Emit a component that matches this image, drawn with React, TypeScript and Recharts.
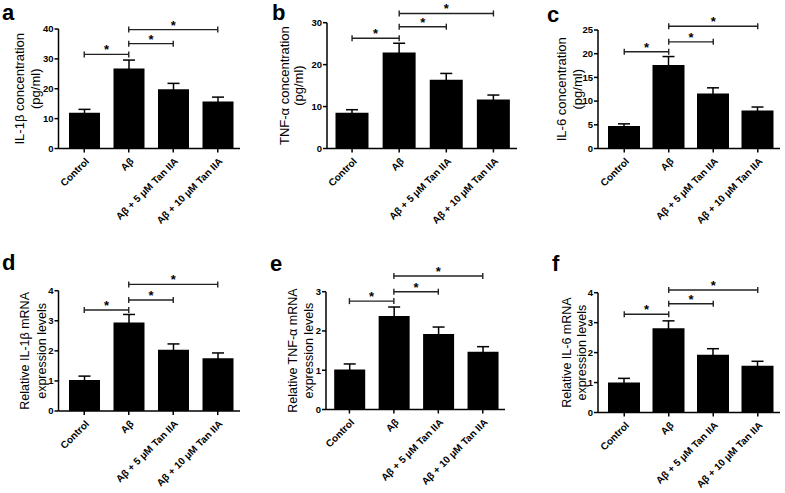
import React from 'react';
import { BarChart, Bar, XAxis, YAxis, ErrorBar, ReferenceLine } from 'recharts';

const FONT = '"Liberation Sans", Arial, Helvetica, sans-serif';

const categories = ['Control', 'Aβ', 'Aβ + 5 μM Tan IIA', 'Aβ + 10 μM Tan IIA'];

// significance comparisons (indices into categories)
const sigFrom = [0, 1, 1];
const sigTo = [1, 2, 3];

// a: IL-1β concentration (pg/ml)
const il1bConc = [12.0, 26.8, 19.8, 15.7];
const il1bConcErr = [1.1, 2.8, 2.0, 1.5];
const il1bConcTicks = [0, 10, 20, 30, 40];
const il1bConcSigY = [31.5, 35.1, 39.8];

// b: TNF-α concentration (pg/ml)
const tnfConc = [8.5, 22.9, 16.4, 11.7];
const tnfConcErr = [0.75, 2.2, 1.5, 1.05];
const tnfConcTicks = [0, 10, 20, 30];
const tnfConcSigY = [26.3, 29.05, 32.2];

// c: IL-6 concentration (pg/ml)
const il6Conc = [4.75, 17.6, 11.6, 8.0];
const il6ConcErr = [0.45, 1.8, 1.2, 0.75];
const il6ConcTicks = [0, 5, 10, 15, 20, 25];
const il6ConcSigY = [20.4, 22.5, 25.8];

// d: Relative IL-1β mRNA
const il1bMrna = [1.03, 2.94, 2.04, 1.75];
const il1bMrnaErr = [0.13, 0.27, 0.19, 0.18];
const il1bMrnaTicks = [0, 1, 2, 3, 4];
const il1bMrnaSigY = [3.36, 3.69, 4.21];

// e: Relative TNF-α mRNA
const tnfMrna = [1.02, 2.38, 1.92, 1.47];
const tnfMrnaErr = [0.14, 0.23, 0.18, 0.13];
const tnfMrnaTicks = [0, 1, 2, 3];
const tnfMrnaSigY = [2.76, 3.0, 3.4];

// f: Relative IL-6 mRNA
const il6Mrna = [1.0, 2.81, 1.93, 1.56];
const il6MrnaErr = [0.14, 0.25, 0.2, 0.15];
const il6MrnaTicks = [0, 1, 2, 3, 4];
const il6MrnaSigY = [3.28, 3.63, 4.09];

const XTick = (props: any) => {
  const { x, y, payload } = props;
  return (
    <g transform={`translate(${x + 3},${y + 5}) rotate(-45)`}>
      <text textAnchor="end" dy="0.35em" fontSize={10} fontWeight="bold" fontFamily={FONT} fill="#000">
        {payload.value}
      </text>
    </g>
  );
};

const AxisLabel = (props: any) => {
  const { viewBox, l1, l2, x1, x2, fs } = props;
  const cy = viewBox.y + viewBox.height / 2;
  return (
    <g>
      <text x={x1} y={cy} transform={`rotate(-90 ${x1} ${cy})`} textAnchor="middle" dy="0.35em" fontSize={fs} fontFamily={FONT} fill="#000">{l1}</text>
      <text x={x2} y={cy} transform={`rotate(-90 ${x2} ${cy})`} textAnchor="middle" dy="0.35em" fontSize={fs} fontFamily={FONT} fill="#000">{l2}</text>
    </g>
  );
};

type PanelProps = {
  values: number[]; errors: number[]; ticks: number[]; sigY: number[];
  l1: string; l2: string; x1: number; x2: number; fs: number;
  left: number; top: number; width: number; height: number;
  plotLeft: number; plotRight: number; plotTop: number; plotBottom: number;
  padL: number; padR: number; barSize: number;
};

const Panel = (p: PanelProps) => {
  const data = categories.map((c, i) => ({ name: c, value: p.values[i], err: p.errors[i] }));
  const max = p.ticks[p.ticks.length - 1];
  const pxPerUnit = (p.plotBottom - p.plotTop) / max;
  const half = 3 / pxPerUnit;
  const yAxisW = p.plotLeft - p.left;
  const xAxisH = p.top + p.height - p.plotBottom;
  const margin = { top: p.plotTop - p.top, right: p.left + p.width - p.plotRight, left: 0, bottom: 0 };
  const lineStyle = { stroke: '#222', strokeWidth: 1.4 };
  return (
    <div style={{ position: 'absolute', left: p.left, top: p.top }}>
      <BarChart width={p.width} height={p.height} data={data} margin={margin} barSize={p.barSize}>
        <XAxis
          dataKey="name"
          type="category"
          interval={0}
          height={xAxisH}
          padding={{ left: p.padL, right: p.padR }}
          tick={<XTick />}
          tickSize={4}
          tickMargin={2}
          axisLine={{ stroke: '#000', strokeWidth: 1.5 }}
          tickLine={{ stroke: '#000', strokeWidth: 1.5 }}
        />
        <YAxis
          type="number"
          domain={[0, max]}
          ticks={p.ticks}
          interval={0}
          width={yAxisW}
          allowDataOverflow
          tickSize={4}
          tickMargin={1}
          axisLine={{ stroke: '#000', strokeWidth: 1.5 }}
          tickLine={{ stroke: '#000', strokeWidth: 1.5 }}
          tick={{ fontSize: 9.5, fontWeight: 'bold', fill: '#000', fontFamily: FONT }}
          label={<AxisLabel l1={p.l1} l2={p.l2} x1={p.x1 - p.left} x2={p.x2 - p.left} fs={p.fs} />}
        />
        <Bar dataKey="value" fill="#000" isAnimationActive={false}>
          <ErrorBar dataKey="err" direction="y" width={6} stroke="#000" strokeWidth={1.5} isAnimationActive={false} />
        </Bar>
        {p.sigY.map((yv, i) => (
          <ReferenceLine
            key={`h${i}`}
            ifOverflow="visible"
            segment={[{ x: categories[sigFrom[i]], y: yv }, { x: categories[sigTo[i]], y: yv }]}
            {...lineStyle}
            label={{ value: '*', position: 'top', offset: 0, fontSize: 13, fontWeight: 'bold', fill: '#000', fontFamily: FONT }}
          />
        ))}
        {p.sigY.map((yv, i) => (
          <ReferenceLine
            key={`l${i}`}
            ifOverflow="visible"
            segment={[{ x: categories[sigFrom[i]], y: yv - half }, { x: categories[sigFrom[i]], y: yv + half }]}
            {...lineStyle}
          />
        ))}
        {p.sigY.map((yv, i) => (
          <ReferenceLine
            key={`r${i}`}
            ifOverflow="visible"
            segment={[{ x: categories[sigTo[i]], y: yv - half }, { x: categories[sigTo[i]], y: yv + half }]}
            {...lineStyle}
          />
        ))}
      </BarChart>
    </div>
  );
};

const letters = [
  { t: 'a', x: 2, y: 20 },
  { t: 'b', x: 272, y: 20 },
  { t: 'c', x: 547, y: 22 },
  { t: 'd', x: 2, y: 270 },
  { t: 'e', x: 270, y: 271 },
  { t: 'f', x: 552, y: 271 },
];

export default function App() {
  return (
    <div style={{ position: 'absolute', left: 0, top: 0, width: 785, height: 493, background: '#fff', overflow: 'hidden' }}>
      <Panel values={il1bConc} errors={il1bConcErr} ticks={il1bConcTicks} sigY={il1bConcSigY}
        l1="IL-1β concentration" l2="(pg/ml)" x1={19} x2={35} fs={13}
        left={0} top={0} width={260} height={245}
        plotLeft={58.5} plotRight={240} plotTop={29} plotBottom={148.5} padL={3.5} padR={0} barSize={31} />
      <Panel values={tnfConc} errors={tnfConcErr} ticks={tnfConcTicks} sigY={tnfConcSigY}
        l1="TNF-α concentration" l2="(pg/ml)" x1={284} x2={298} fs={13}
        left={260} top={0} width={262} height={245}
        plotLeft={327} plotRight={517} plotTop={22.7} plotBottom={148.5} padL={1.5} padR={0} barSize={33} />
      <Panel values={il6Conc} errors={il6ConcErr} ticks={il6ConcTicks} sigY={il6ConcSigY}
        l1="IL-6 concentration" l2="(pg/ml)" x1={561} x2={577} fs={13}
        left={522} top={0} width={263} height={245}
        plotLeft={598} plotRight={780} plotTop={30} plotBottom={148.5} padL={4} padR={0} barSize={32} />
      <Panel values={il1bMrna} errors={il1bMrnaErr} ticks={il1bMrnaTicks} sigY={il1bMrnaSigY}
        l1="Relative IL-1β mRNA" l2="expression levels" x1={25} x2={42} fs={12.5}
        left={0} top={248} width={260} height={245}
        plotLeft={58.5} plotRight={240} plotTop={290.7} plotBottom={411} padL={3.5} padR={0} barSize={31} />
      <Panel values={tnfMrna} errors={tnfMrnaErr} ticks={tnfMrnaTicks} sigY={tnfMrnaSigY}
        l1="Relative TNF-α mRNA" l2="expression levels" x1={293} x2={309} fs={12.5}
        left={260} top={248} width={262} height={245}
        plotLeft={326} plotRight={505} plotTop={291.7} plotBottom={409.5} padL={1.2} padR={0} barSize={31} />
      <Panel values={il6Mrna} errors={il6MrnaErr} ticks={il6MrnaTicks} sigY={il6MrnaSigY}
        l1="Relative IL-6 mRNA" l2="expression levels" x1={567} x2={582} fs={12.5}
        left={522} top={248} width={263} height={245}
        plotLeft={598} plotRight={780} plotTop={292.7} plotBottom={412.5} padL={4} padR={0} barSize={32} />
      <svg width={785} height={493} style={{ position: 'absolute', left: 0, top: 0, pointerEvents: 'none' }}>
        {letters.map((l) => (
          <text key={l.t} x={l.x} y={l.y} fontSize={22} fontWeight="bold" fontFamily={FONT} fill="#000">{l.t}</text>
        ))}
      </svg>
    </div>
  );
}
